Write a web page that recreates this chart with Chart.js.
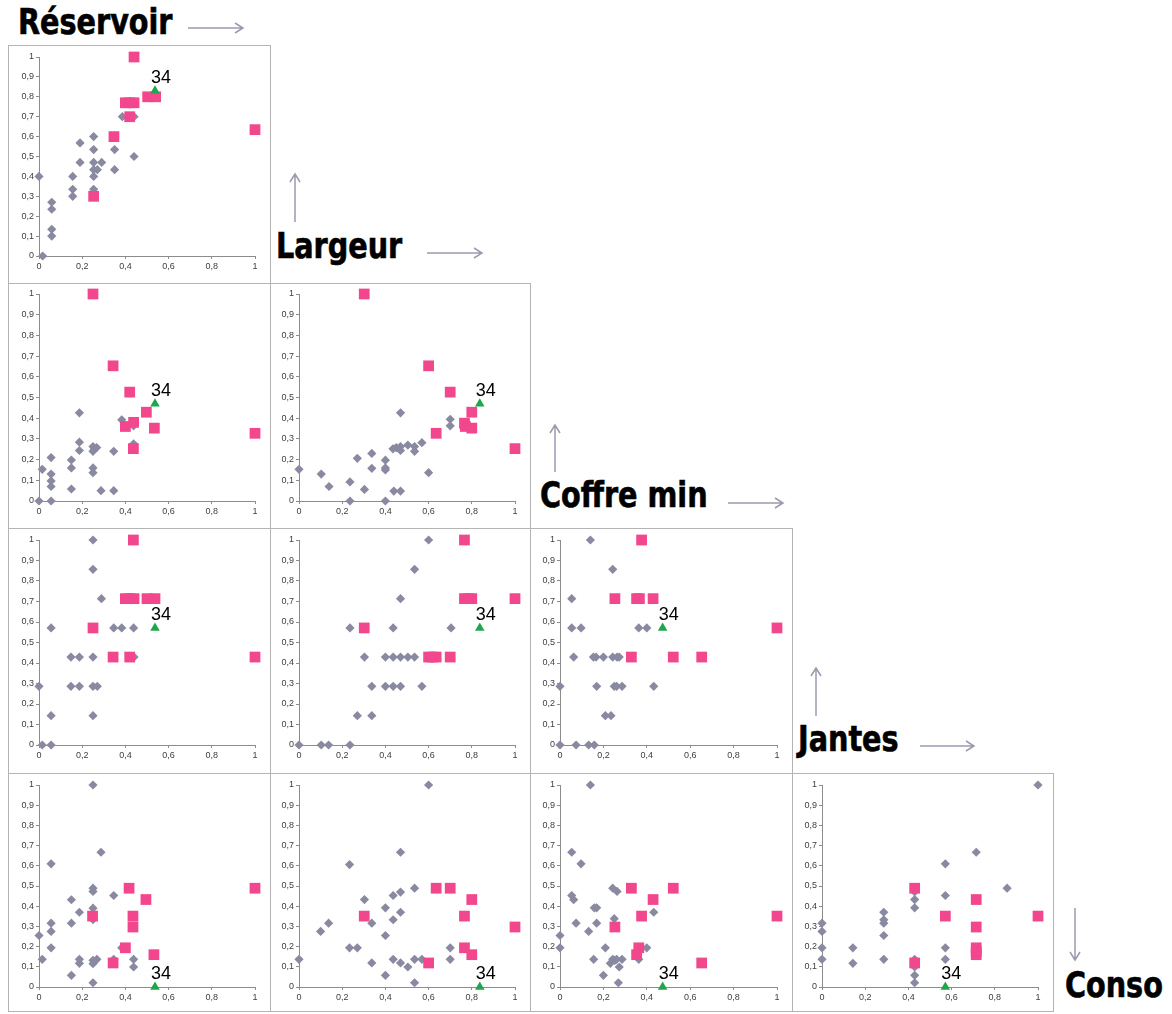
<!DOCTYPE html>
<html lang="fr">
<head>
<meta charset="utf-8">
<title>Matrice de nuages de points</title>
<script src="https://cdn.jsdelivr.net/npm/chart.js@4.4.0/dist/chart.umd.min.js"></script>
<style>
  body { margin: 0; background: #fff; width: 1172px; height: 1014px; position: relative; overflow: hidden; }
  .cadre { position: absolute; border: 1px solid #b4b4b4; box-sizing: border-box; background: #fff; }
  .cadre canvas { display: block; }
  .titre { position: absolute; font-family: 'Liberation Sans Narrow', 'DejaVu Sans Condensed', sans-serif;
           font-weight: bold; font-size: 35px; line-height: 35px; color: #000; white-space: nowrap;
           -webkit-text-stroke: 0.6px #000; transform: scaleX(0.91); transform-origin: left top; }
  #fleches { position: absolute; left: 0; top: 0; }
</style>
</head>
<body>
<svg id="fleches" width="1172" height="1014">
  <g stroke="#9a9ab0" stroke-width="1.5" fill="none">
    <path d="M188 28 H243 M235 23 L243 28 L235 33"/>
    <path d="M295 222 V174 M290 182 L295 174 L300 182"/>
    <path d="M427 253 H482 M474 248 L482 253 L474 258"/>
    <path d="M555 472 V425 M550 433 L555 425 L560 433"/>
    <path d="M728 503 H783 M775 498 L783 503 L775 508"/>
    <path d="M816 716 V668 M811 676 L816 668 L821 676"/>
    <path d="M920 746 H974 M966 741 L974 746 L966 751"/>
    <path d="M1075 908 V960 M1070 952 L1075 960 L1080 952"/>
  </g>
</svg>
<script>
'use strict';

const variables = ['Réservoir', 'Largeur', 'Coffre min', 'Jantes', 'Conso'];
const xTicks = ['0', '0,2', '0,4', '0,6', '0,8', '1'];
const yTicks = ['0', '0,1', '0,2', '0,3', '0,4', '0,5', '0,6', '0,7', '0,8', '0,9', '1'];
const etiquetteVert = '34';

// Réservoir (x) / Largeur (y)
const grisResLarg = [[0,0.40],[0.017,0],[0.059,0.27],[0.059,0.235],[0.059,0.134],[0.059,0.10],[0.156,0.40],[0.156,0.335],[0.156,0.30],[0.19,0.568],[0.19,0.47],[0.253,0.60],[0.253,0.535],[0.253,0.47],[0.253,0.434],[0.253,0.40],[0.253,0.335],[0.27,0.434],[0.29,0.47],[0.35,0.535],[0.35,0.434],[0.386,0.70],[0.44,0.70],[0.44,0.50]];
const roseResLarg = [[0.44,1.0],[0.40,0.77],[0.42,0.77],[0.44,0.77],[0.42,0.70],[0.347,0.60],[0.503,0.80],[0.54,0.80],[1.0,0.635],[0.253,0.30]];
const vertResLarg = [[0.537,0.83]];

// Réservoir / Coffre min
const grisResCoffre = [[0,0],[0.015,0.153],[0.056,0.21],[0.056,0.13],[0.056,0.097],[0.056,0.07],[0.056,0],[0.15,0.198],[0.15,0.16],[0.15,0.058],[0.187,0.426],[0.187,0.284],[0.187,0.244],[0.25,0.263],[0.25,0.24],[0.256,0.25],[0.267,0.258],[0.25,0.16],[0.25,0.137],[0.287,0.05],[0.346,0.24],[0.346,0.05],[0.383,0.392],[0.438,0.363],[0.438,0.276]];
const roseResCoffre = [[0.25,1.0],[0.343,0.653],[0.42,0.526],[0.497,0.429],[0.40,0.36],[0.438,0.38],[0.534,0.352],[0.437,0.253],[1.0,0.327]];
const vertResCoffre = [[0.537,0.47]];

// Largeur / Coffre min
const grisLargCoffre = [[0,0.153],[0.103,0.13],[0.139,0.07],[0.236,0.092],[0.236,0],[0.27,0.206],[0.303,0.056],[0.337,0.23],[0.337,0.158],[0.40,0.197],[0.40,0.16],[0.40,0.15],[0.40,0],[0.435,0.252],[0.45,0.258],[0.439,0.048],[0.47,0.426],[0.47,0.263],[0.47,0.244],[0.47,0.048],[0.504,0.27],[0.535,0.263],[0.535,0.24],[0.569,0.282],[0.60,0.137],[0.70,0.395],[0.70,0.363]];
const roseLargCoffre = [[0.302,1.0],[0.60,0.653],[0.70,0.526],[0.80,0.429],[0.766,0.376],[0.77,0.36],[0.80,0.352],[0.635,0.327],[1.0,0.253]];
const vertLargCoffre = [[0.837,0.47]];

// Réservoir / Jantes
const grisResJantes = [[0,0.286],[0.015,0],[0.056,0],[0.056,0.143],[0.056,0.571],[0.148,0.429],[0.187,0.429],[0.148,0.286],[0.187,0.286],[0.25,1.0],[0.25,0.857],[0.25,0.429],[0.25,0.286],[0.27,0.286],[0.25,0.143],[0.289,0.714],[0.346,0.571],[0.383,0.571],[0.438,0.571],[0.44,0.429]];
const roseResJantes = [[0.437,1.0],[0.40,0.714],[0.42,0.714],[0.44,0.714],[0.50,0.714],[0.537,0.714],[0.25,0.571],[0.343,0.429],[0.42,0.429],[1.0,0.429]];
const vertResJantes = [[0.537,0.571]];

// Largeur / Jantes
const grisLargJantes = [[0,0],[0.103,0],[0.137,0],[0.236,0],[0.236,0.571],[0.27,0.143],[0.337,0.143],[0.337,0.286],[0.303,0.429],[0.40,0.429],[0.436,0.429],[0.47,0.429],[0.504,0.429],[0.535,0.429],[0.40,0.286],[0.436,0.286],[0.47,0.286],[0.569,0.286],[0.436,0.571],[0.47,0.714],[0.535,0.857],[0.60,1.0],[0.704,0.571]];
const roseLargJantes = [[0.766,1.0],[0.766,0.714],[0.783,0.714],[0.80,0.714],[1.0,0.714],[0.302,0.571],[0.60,0.429],[0.617,0.429],[0.635,0.429],[0.70,0.429]];
const vertLargJantes = [[0.837,0.571]];

// Coffre min / Jantes
const grisCoffreJantes = [[0,0.286],[0,0],[0.074,0],[0.132,0],[0.158,0],[0.054,0.714],[0.054,0.571],[0.097,0.571],[0.063,0.429],[0.14,1.0],[0.154,0.429],[0.166,0.429],[0.20,0.429],[0.243,0.429],[0.263,0.429],[0.273,0.429],[0.169,0.286],[0.25,0.286],[0.261,0.286],[0.286,0.286],[0.432,0.286],[0.209,0.143],[0.235,0.143],[0.243,0.857],[0.363,0.571],[0.40,0.571]];
const roseCoffreJantes = [[0.376,1.0],[0.253,0.714],[0.353,0.714],[0.366,0.714],[0.429,0.714],[0.329,0.429],[0.522,0.429],[0.653,0.429],[1.0,0.571]];
const vertCoffreJantes = [[0.473,0.571]];

// Réservoir / Conso
const grisResConso = [[0,0.255],[0.015,0.137],[0.056,0.61],[0.056,0.316],[0.056,0.275],[0.056,0.194],[0.15,0.432],[0.15,0.316],[0.15,0.058],[0.187,0.37],[0.187,0.137],[0.187,0.117],[0.25,1.0],[0.25,0.489],[0.25,0.473],[0.25,0.39],[0.25,0.334],[0.25,0.132],[0.25,0.115],[0.268,0.137],[0.25,0.021],[0.287,0.667],[0.346,0.453],[0.346,0.137],[0.383,0.194],[0.438,0.137],[0.438,0.099]];
const roseResConso = [[0.417,0.489],[0.495,0.433],[1.0,0.489],[0.248,0.351],[0.435,0.351],[0.435,0.297],[0.40,0.194],[0.532,0.16],[0.343,0.119]];
const vertResConso = [[0.537,0]];

// Largeur / Conso
const grisLargConso = [[0,0.137],[0.10,0.275],[0.137,0.316],[0.234,0.606],[0.234,0.194],[0.27,0.194],[0.303,0.433],[0.337,0.316],[0.337,0.119],[0.40,0.392],[0.40,0.255],[0.40,0.058],[0.436,0.453],[0.436,0.333],[0.436,0.137],[0.47,0.667],[0.47,0.47],[0.47,0.37],[0.47,0.119],[0.504,0.099],[0.535,0.489],[0.535,0.137],[0.569,0.137],[0.535,0.021],[0.60,1.0],[0.70,0.194],[0.70,0.137]];
const roseLargConso = [[0.635,0.489],[0.70,0.489],[0.80,0.433],[0.766,0.351],[1.0,0.297],[0.302,0.351],[0.766,0.194],[0.80,0.16],[0.60,0.119]];
const vertLargConso = [[0.837,0]];

// Coffre min / Conso
const grisCoffreConso = [[0,0.255],[0,0.194],[0.054,0.667],[0.054,0.453],[0.063,0.432],[0.074,0.316],[0.097,0.61],[0.132,0.275],[0.14,1.0],[0.155,0.137],[0.158,0.392],[0.169,0.392],[0.169,0.316],[0.20,0.058],[0.209,0.194],[0.243,0.489],[0.263,0.473],[0.25,0.338],[0.232,0.117],[0.243,0.137],[0.253,0.132],[0.261,0.137],[0.273,0.099],[0.286,0.137],[0.269,0.021],[0.363,0.137],[0.40,0.194],[0.432,0.37]];
const roseCoffreConso = [[0.329,0.489],[0.522,0.489],[0.429,0.433],[0.376,0.351],[1.0,0.351],[0.253,0.297],[0.363,0.194],[0.353,0.16],[0.653,0.119]];
const vertCoffreConso = [[0.473,0]];

// Jantes / Conso
const grisJantesConso = [[0,0.316],[0,0.275],[0,0.194],[0,0.137],[0.143,0.194],[0.143,0.117],[0.286,0.37],[0.286,0.333],[0.286,0.316],[0.286,0.255],[0.286,0.137],[0.429,0.471],[0.429,0.433],[0.429,0.392],[0.429,0.137],[0.429,0.099],[0.429,0.058],[0.429,0.021],[0.571,0.61],[0.571,0.453],[0.571,0.194],[0.571,0.137],[0.714,0.667],[0.857,0.489],[1.0,1.0]];
const roseJantesConso = [[0.429,0.489],[0.429,0.119],[0.571,0.351],[0.714,0.433],[0.714,0.297],[0.714,0.194],[0.714,0.175],[0.714,0.16],[1.0,0.351]];
const vertJantesConso = [[0.571,0]];

// geometry of the grid (boxes and plot areas, page pixels)
const lignes = [
    { haut: 45,  plotHaut: 57,  plotBas: 256, bas: 284 },
    { haut: 283, plotHaut: 294, plotBas: 501, bas: 529 },
    { haut: 528, plotHaut: 540, plotBas: 745, bas: 774 },
    { haut: 773, plotHaut: 785, plotBas: 987, bas: 1012 }
];
const colonnes = [
    { gauche: 8,   plotGauche: 39,  plotDroite: 255,  droite: 271 },
    { gauche: 270, plotGauche: 299, plotDroite: 515,  droite: 531 },
    { gauche: 530, plotGauche: 560, plotDroite: 777,  droite: 793 },
    { gauche: 792, plotGauche: 822, plotDroite: 1038, droite: 1054 }
];

const panneaux = [
    { ligne: 0, col: 0, gris: grisResLarg, rose: roseResLarg, vert: vertResLarg },
    { ligne: 1, col: 0, gris: grisResCoffre, rose: roseResCoffre, vert: vertResCoffre },
    { ligne: 1, col: 1, gris: grisLargCoffre, rose: roseLargCoffre, vert: vertLargCoffre },
    { ligne: 2, col: 0, gris: grisResJantes, rose: roseResJantes, vert: vertResJantes },
    { ligne: 2, col: 1, gris: grisLargJantes, rose: roseLargJantes, vert: vertLargJantes },
    { ligne: 2, col: 2, gris: grisCoffreJantes, rose: roseCoffreJantes, vert: vertCoffreJantes },
    { ligne: 3, col: 0, gris: grisResConso, rose: roseResConso, vert: vertResConso },
    { ligne: 3, col: 1, gris: grisLargConso, rose: roseLargConso, vert: vertLargConso },
    { ligne: 3, col: 2, gris: grisCoffreConso, rose: roseCoffreConso, vert: vertCoffreConso },
    { ligne: 3, col: 3, gris: grisJantesConso, rose: roseJantesConso, vert: vertJantesConso }
];

// titles: [text, left, top]
const titres = [
    [variables[0], 18, 5],
    [variables[1], 276, 229],
    [variables[2], 540, 478],
    [variables[3], 798, 722],
    [variables[4], 1065, 968]
];

const toPts = arr => arr.map(p => ({ x: p[0], y: p[1] }));

const etiquette34 = {
    id: 'etiquette34',
    afterDatasetsDraw(chart) {
        const pt = chart.getDatasetMeta(0).data[0];
        if (!pt) return;
        const ctx = chart.ctx;
        ctx.save();
        ctx.font = '18px "Liberation Sans", Arial, sans-serif';
        ctx.fillStyle = '#000';
        ctx.textAlign = 'center';
        ctx.textBaseline = 'alphabetic';
        ctx.fillText(etiquetteVert, pt.x + 6, pt.y - 8);
        ctx.restore();
    }
};

const tickFont = { family: '"Liberation Sans", Arial, sans-serif', size: 9 };

titres.forEach(t => {
    const d = document.createElement('div');
    d.className = 'titre';
    d.textContent = t[0];
    d.style.left = t[1] + 'px';
    d.style.top = t[2] + 'px';
    document.body.appendChild(d);
});

panneaux.forEach(p => {
    const L = lignes[p.ligne];
    const C = colonnes[p.col];
    const w = C.droite - C.gauche;
    const h = L.bas - L.haut;

    const div = document.createElement('div');
    div.className = 'cadre';
    div.style.left = C.gauche + 'px';
    div.style.top = L.haut + 'px';
    div.style.width = w + 'px';
    div.style.height = h + 'px';
    const canvas = document.createElement('canvas');
    canvas.width = w - 2;
    canvas.height = h - 2;
    div.appendChild(canvas);
    document.body.appendChild(div);

    new Chart(canvas, {
        type: 'scatter',
        data: {
            datasets: [
                { label: etiquetteVert, data: toPts(p.vert), pointStyle: 'triangle', pointRadius: 5.5,
                  backgroundColor: '#1da64c', borderWidth: 0, clip: false },
                { label: 'rose', data: toPts(p.rose), pointStyle: 'rect', pointRadius: 7.6,
                  backgroundColor: '#f2478d', borderWidth: 0, clip: false },
                { label: 'gris', data: toPts(p.gris), pointStyle: 'rectRot', pointRadius: 4.6,
                  backgroundColor: '#8989a1', borderWidth: 0, clip: false }
            ]
        },
        options: {
            responsive: false,
            animation: false,
            devicePixelRatio: 1,
            events: [],
            layout: {
                padding: {
                    top: L.plotHaut - (L.haut + 1),
                    right: (C.droite - 1) - C.plotDroite,
                    left: 0,
                    bottom: 0
                }
            },
            plugins: {
                legend: { display: false },
                tooltip: { enabled: false }
            },
            scales: {
                x: {
                    type: 'linear', min: 0, max: 1,
                    ticks: { stepSize: 0.2, callback: (v, i) => xTicks[i], font: tickFont, color: '#404040',
                             padding: 2, maxRotation: 0, autoSkip: false },
                    grid: { drawOnChartArea: false, drawTicks: true, tickLength: 3, color: '#8c8c8c' },
                    border: { color: '#8c8c8c' },
                    afterFit(s) { s.height = (L.bas - 1) - L.plotBas; }
                },
                y: {
                    type: 'linear', min: 0, max: 1,
                    ticks: { stepSize: 0.1, callback: (v, i) => yTicks[i], font: tickFont, color: '#404040',
                             padding: 2, autoSkip: false },
                    grid: { drawOnChartArea: false, drawTicks: true, tickLength: 3, color: '#8c8c8c' },
                    border: { color: '#8c8c8c' },
                    afterFit(s) { s.width = C.plotGauche - (C.gauche + 1); }
                }
            }
        },
        plugins: [etiquette34]
    });
});
</script>
</body>
</html>
